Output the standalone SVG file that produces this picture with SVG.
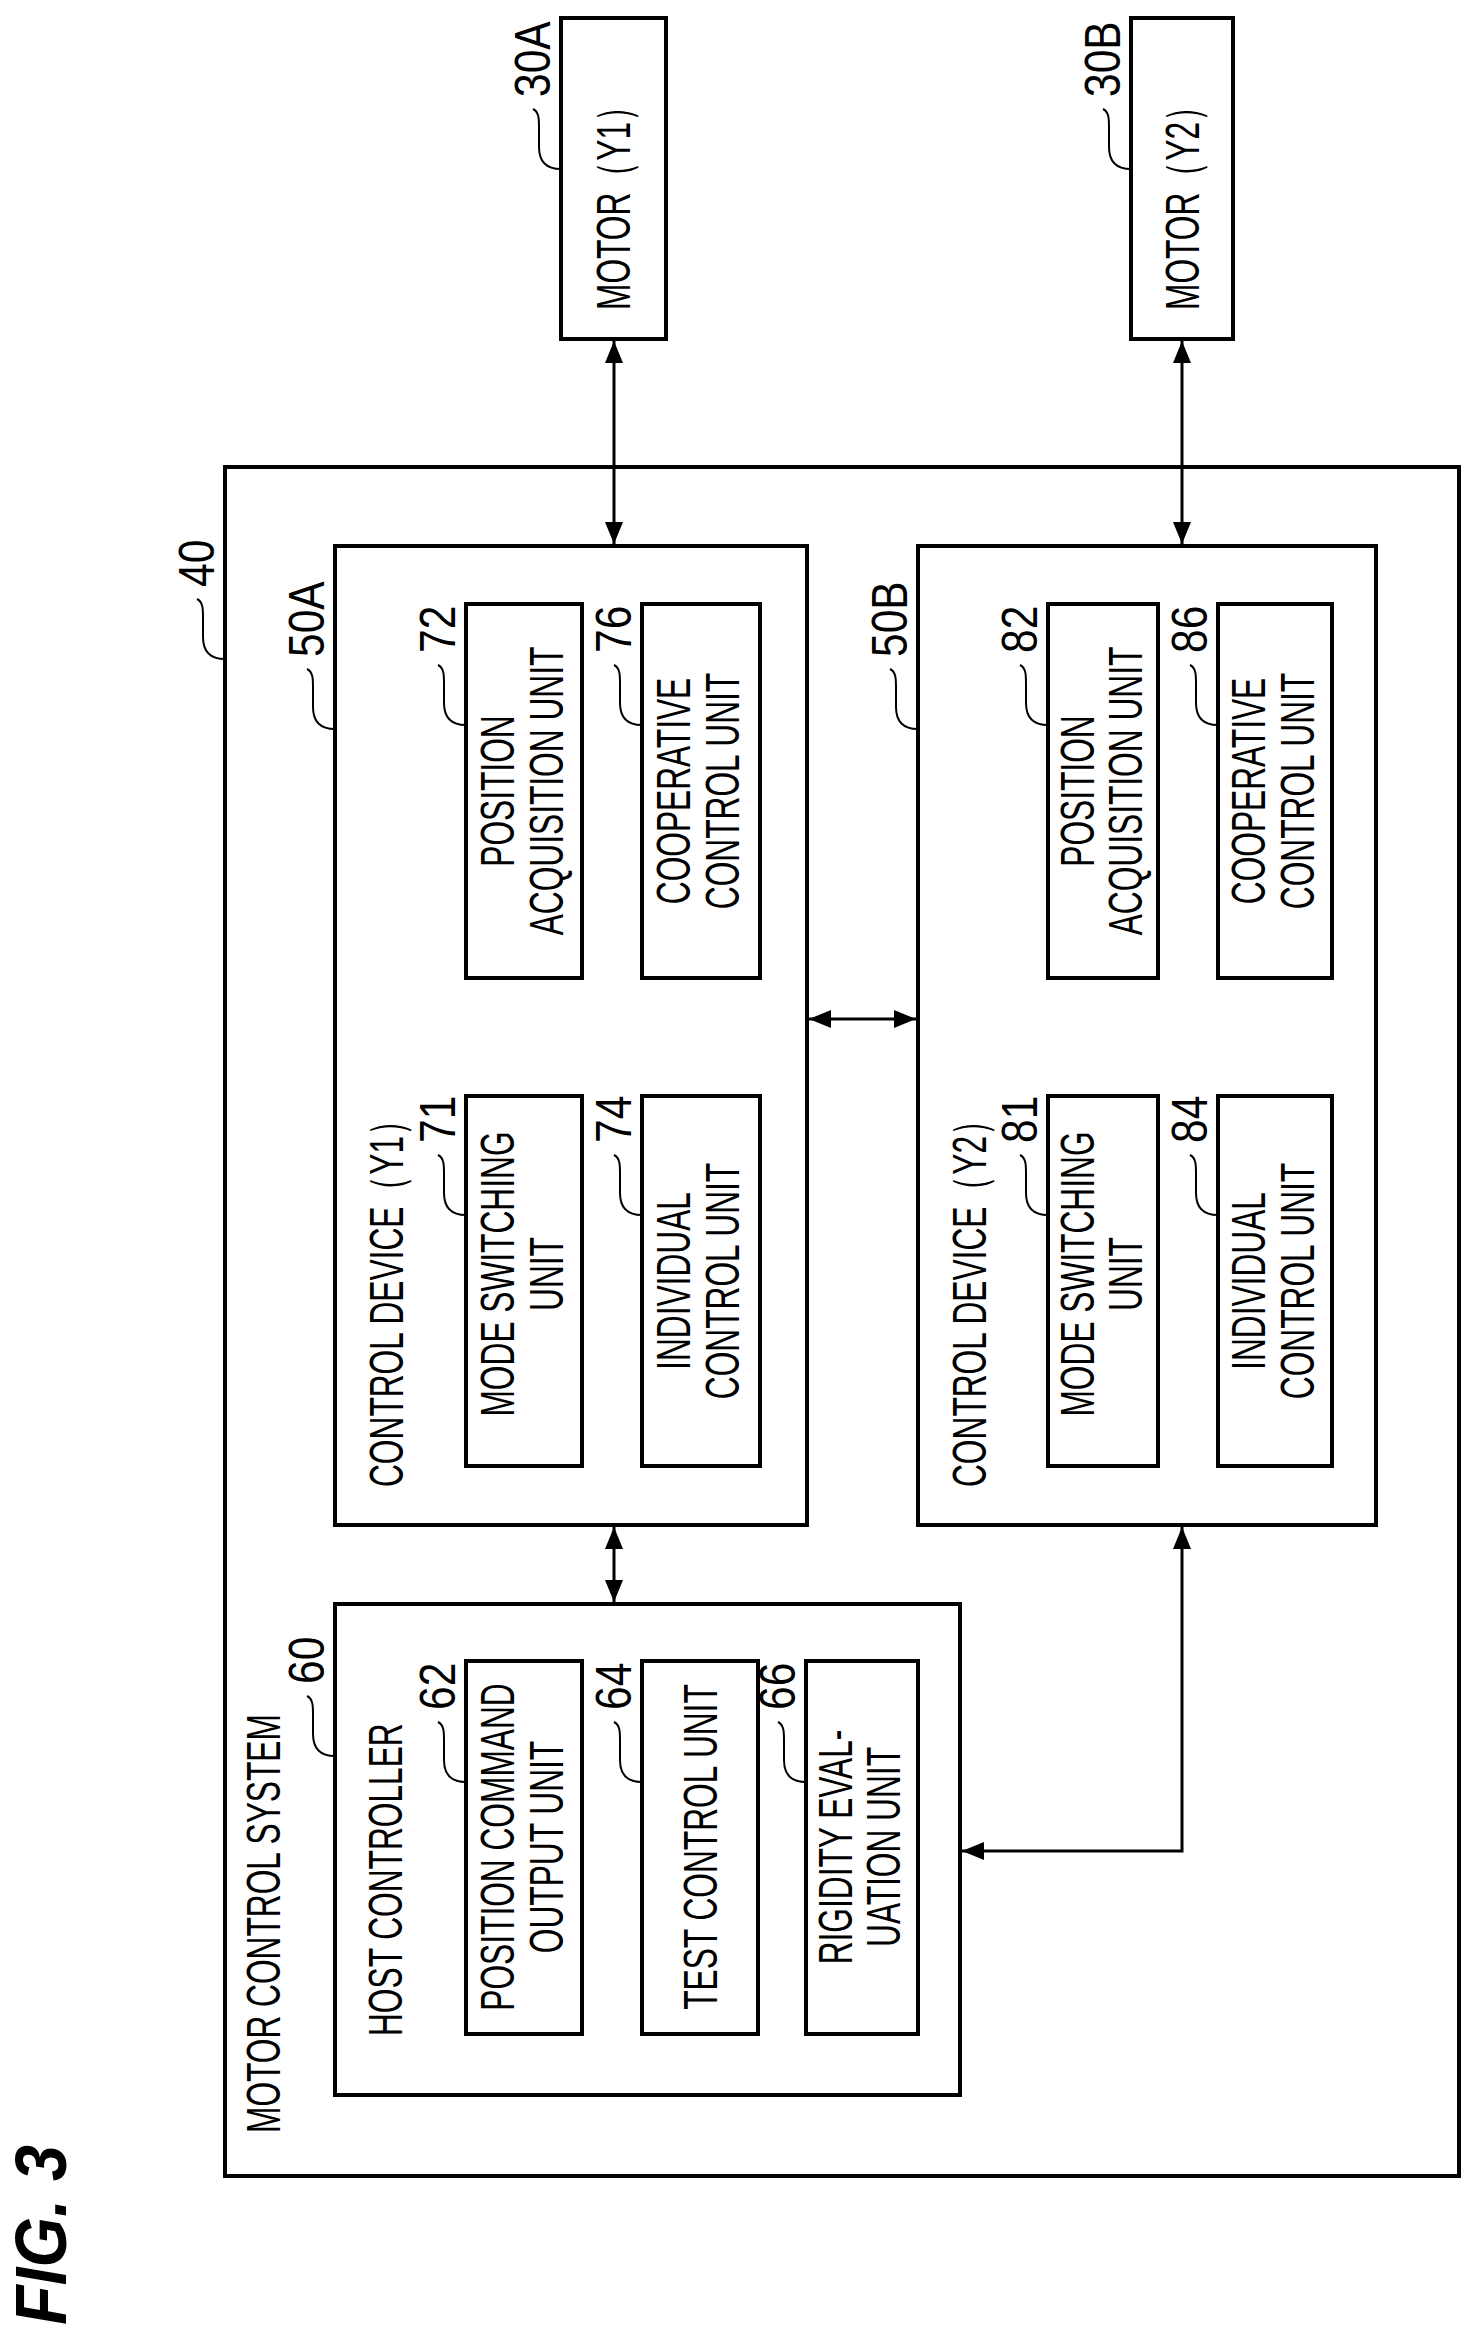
<svg xmlns="http://www.w3.org/2000/svg" width="1473" height="2333" viewBox="0 0 1473 2333">
<style>
.b{fill:none;stroke:#000;stroke-width:4}
.t{font-family:"Liberation Sans",Arial,sans-serif;font-size:48px;fill:#000}
.n{font-family:"Liberation Sans",Arial,sans-serif;font-size:50px;fill:#000}
.l{fill:none;stroke:#000;stroke-width:2}
.c{fill:none;stroke:#000;stroke-width:3}
</style>
<defs>
<marker id="a" markerUnits="userSpaceOnUse" markerWidth="24" markerHeight="20" refX="22" refY="10" orient="auto-start-reverse"><path d="M0,1 L22,10 L0,19 Z" fill="#000"/></marker>
</defs>
<rect width="1473" height="2333" fill="#fff"/>
<g id="n40">
<rect class="b" x="225" y="467" width="1234" height="1709"/>
<text class="t" transform="translate(280,2133) rotate(-90) scale(0.66,1)">MOTOR CONTROL SYSTEM</text>
<text class="n" transform="translate(214,587) rotate(-90) scale(0.85,1)">40</text>
<path class="l" d="M197,599 c6,3 6,10 6,18 v20 c0,15 8,22 22,22"/>
</g>
<g id="n30A">
<rect class="b" x="561" y="18" width="105" height="321"/>
<text class="t" text-anchor="middle" transform="translate(630,200) rotate(-90) scale(0.66,1)">MOTOR（Y1）</text>
<text class="n" transform="translate(550,97) rotate(-90) scale(0.85,1)">30A</text>
<path class="l" d="M533,109 c6,3 6,10 6,18 v20 c0,15 8,22 22,22"/>
</g>
<g id="n30B">
<rect class="b" x="1131" y="18" width="102" height="321"/>
<text class="t" text-anchor="middle" transform="translate(1199,200) rotate(-90) scale(0.66,1)">MOTOR（Y2）</text>
<text class="n" transform="translate(1120,97) rotate(-90) scale(0.85,1)">30B</text>
<path class="l" d="M1103,109 c6,3 6,10 6,18 v20 c0,15 8,22 22,22"/>
</g>
<g id="n50A">
<rect class="b" x="335" y="546" width="472" height="979"/>
<text class="t" transform="translate(403,1487) rotate(-90) scale(0.66,1)">CONTROL DEVICE（Y1）</text>
<text class="n" transform="translate(324,657) rotate(-90) scale(0.85,1)">50A</text>
<path class="l" d="M307,669 c6,3 6,10 6,18 v20 c0,15 8,22 22,22"/>
</g>
<g id="n50B">
<rect class="b" x="918" y="546" width="458" height="979"/>
<text class="t" transform="translate(986,1487) rotate(-90) scale(0.66,1)">CONTROL DEVICE（Y2）</text>
<text class="n" transform="translate(907,657) rotate(-90) scale(0.85,1)">50B</text>
<path class="l" d="M890,669 c6,3 6,10 6,18 v20 c0,15 8,22 22,22"/>
</g>
<g id="n60">
<rect class="b" x="335" y="1604" width="625" height="491"/>
<text class="t" transform="translate(402,2036) rotate(-90) scale(0.66,1)">HOST CONTROLLER</text>
<text class="n" transform="translate(324,1684) rotate(-90) scale(0.85,1)">60</text>
<path class="l" d="M307,1696 c6,3 6,10 6,18 v20 c0,15 8,22 22,22"/>
</g>
<g id="n72">
<rect class="b" x="466" y="604" width="116" height="374"/>
<text class="t" text-anchor="middle" transform="translate(514,791) rotate(-90) scale(0.66,1)">POSITION</text>
<text class="t" text-anchor="middle" transform="translate(563,791) rotate(-90) scale(0.66,1)">ACQUISITION UNIT</text>
<text class="n" transform="translate(455,653) rotate(-90) scale(0.85,1)">72</text>
<path class="l" d="M438,665 c6,3 6,10 6,18 v20 c0,15 8,22 22,22"/>
</g>
<g id="n76">
<rect class="b" x="642" y="604" width="118" height="374"/>
<text class="t" text-anchor="middle" transform="translate(690,791) rotate(-90) scale(0.66,1)">COOPERATIVE</text>
<text class="t" text-anchor="middle" transform="translate(739,791) rotate(-90) scale(0.66,1)">CONTROL UNIT</text>
<text class="n" transform="translate(631,653) rotate(-90) scale(0.85,1)">76</text>
<path class="l" d="M614,665 c6,3 6,10 6,18 v20 c0,15 8,22 22,22"/>
</g>
<g id="n71">
<rect class="b" x="466" y="1096" width="116" height="370"/>
<text class="t" text-anchor="middle" transform="translate(514,1274) rotate(-90) scale(0.66,1)">MODE SWITCHING</text>
<text class="t" text-anchor="middle" transform="translate(563,1274) rotate(-90) scale(0.66,1)">UNIT</text>
<text class="n" transform="translate(455,1143) rotate(-90) scale(0.85,1)">71</text>
<path class="l" d="M438,1155 c6,3 6,10 6,18 v20 c0,15 8,22 22,22"/>
</g>
<g id="n74">
<rect class="b" x="642" y="1096" width="118" height="370"/>
<text class="t" text-anchor="middle" transform="translate(690,1281) rotate(-90) scale(0.66,1)">INDIVIDUAL</text>
<text class="t" text-anchor="middle" transform="translate(739,1281) rotate(-90) scale(0.66,1)">CONTROL UNIT</text>
<text class="n" transform="translate(631,1143) rotate(-90) scale(0.85,1)">74</text>
<path class="l" d="M614,1155 c6,3 6,10 6,18 v20 c0,15 8,22 22,22"/>
</g>
<g id="n82">
<rect class="b" x="1048" y="604" width="110" height="374"/>
<text class="t" text-anchor="middle" transform="translate(1094,791) rotate(-90) scale(0.66,1)">POSITION</text>
<text class="t" text-anchor="middle" transform="translate(1142,791) rotate(-90) scale(0.66,1)">ACQUISITION UNIT</text>
<text class="n" transform="translate(1037,653) rotate(-90) scale(0.85,1)">82</text>
<path class="l" d="M1020,665 c6,3 6,10 6,18 v20 c0,15 8,22 22,22"/>
</g>
<g id="n86">
<rect class="b" x="1218" y="604" width="114" height="374"/>
<text class="t" text-anchor="middle" transform="translate(1265,791) rotate(-90) scale(0.66,1)">COOPERATIVE</text>
<text class="t" text-anchor="middle" transform="translate(1314,791) rotate(-90) scale(0.66,1)">CONTROL UNIT</text>
<text class="n" transform="translate(1207,653) rotate(-90) scale(0.85,1)">86</text>
<path class="l" d="M1190,665 c6,3 6,10 6,18 v20 c0,15 8,22 22,22"/>
</g>
<g id="n81">
<rect class="b" x="1048" y="1096" width="110" height="370"/>
<text class="t" text-anchor="middle" transform="translate(1094,1274) rotate(-90) scale(0.66,1)">MODE SWITCHING</text>
<text class="t" text-anchor="middle" transform="translate(1142,1274) rotate(-90) scale(0.66,1)">UNIT</text>
<text class="n" transform="translate(1037,1143) rotate(-90) scale(0.85,1)">81</text>
<path class="l" d="M1020,1155 c6,3 6,10 6,18 v20 c0,15 8,22 22,22"/>
</g>
<g id="n84">
<rect class="b" x="1218" y="1096" width="114" height="370"/>
<text class="t" text-anchor="middle" transform="translate(1265,1281) rotate(-90) scale(0.66,1)">INDIVIDUAL</text>
<text class="t" text-anchor="middle" transform="translate(1314,1281) rotate(-90) scale(0.66,1)">CONTROL UNIT</text>
<text class="n" transform="translate(1207,1143) rotate(-90) scale(0.85,1)">84</text>
<path class="l" d="M1190,1155 c6,3 6,10 6,18 v20 c0,15 8,22 22,22"/>
</g>
<g id="n62">
<rect class="b" x="466" y="1661" width="116" height="373"/>
<text class="t" text-anchor="middle" transform="translate(514,1847) rotate(-90) scale(0.66,1)">POSITION COMMAND</text>
<text class="t" text-anchor="middle" transform="translate(563,1847) rotate(-90) scale(0.66,1)">OUTPUT UNIT</text>
<text class="n" transform="translate(455,1710) rotate(-90) scale(0.85,1)">62</text>
<path class="l" d="M438,1722 c6,3 6,10 6,18 v20 c0,15 8,22 22,22"/>
</g>
<g id="n64">
<rect class="b" x="642" y="1661" width="116" height="373"/>
<text class="t" text-anchor="middle" transform="translate(717,1847) rotate(-90) scale(0.66,1)">TEST CONTROL UNIT</text>
<text class="n" transform="translate(631,1710) rotate(-90) scale(0.85,1)">64</text>
<path class="l" d="M614,1722 c6,3 6,10 6,18 v20 c0,15 8,22 22,22"/>
</g>
<g id="n66">
<rect class="b" x="806" y="1661" width="112" height="373"/>
<text class="t" text-anchor="middle" transform="translate(852,1847) rotate(-90) scale(0.66,1)">RIGIDITY EVAL-</text>
<text class="t" text-anchor="middle" transform="translate(900,1847) rotate(-90) scale(0.66,1)">UATION UNIT</text>
<text class="n" transform="translate(795,1710) rotate(-90) scale(0.85,1)">66</text>
<path class="l" d="M778,1722 c6,3 6,10 6,18 v20 c0,15 8,22 22,22"/>
</g>
<g id="connectors">
<line class="c" x1="614" y1="341" x2="614" y2="544" marker-start="url(#a)" marker-end="url(#a)"/>
<line class="c" x1="1182" y1="341" x2="1182" y2="544" marker-start="url(#a)" marker-end="url(#a)"/>
<line class="c" x1="809" y1="1019" x2="916" y2="1019" marker-start="url(#a)" marker-end="url(#a)"/>
<line class="c" x1="614" y1="1527" x2="614" y2="1602" marker-start="url(#a)" marker-end="url(#a)"/>
<path class="c" d="M1182,1527 V1851 H962" marker-start="url(#a)" marker-end="url(#a)"/>
</g>
<text transform="translate(66,2325) rotate(-90) scale(0.9,1)" style="font-family:'Liberation Sans',Arial,sans-serif;font-size:72px;font-weight:bold;font-style:italic">FIG. 3</text>
</svg>
